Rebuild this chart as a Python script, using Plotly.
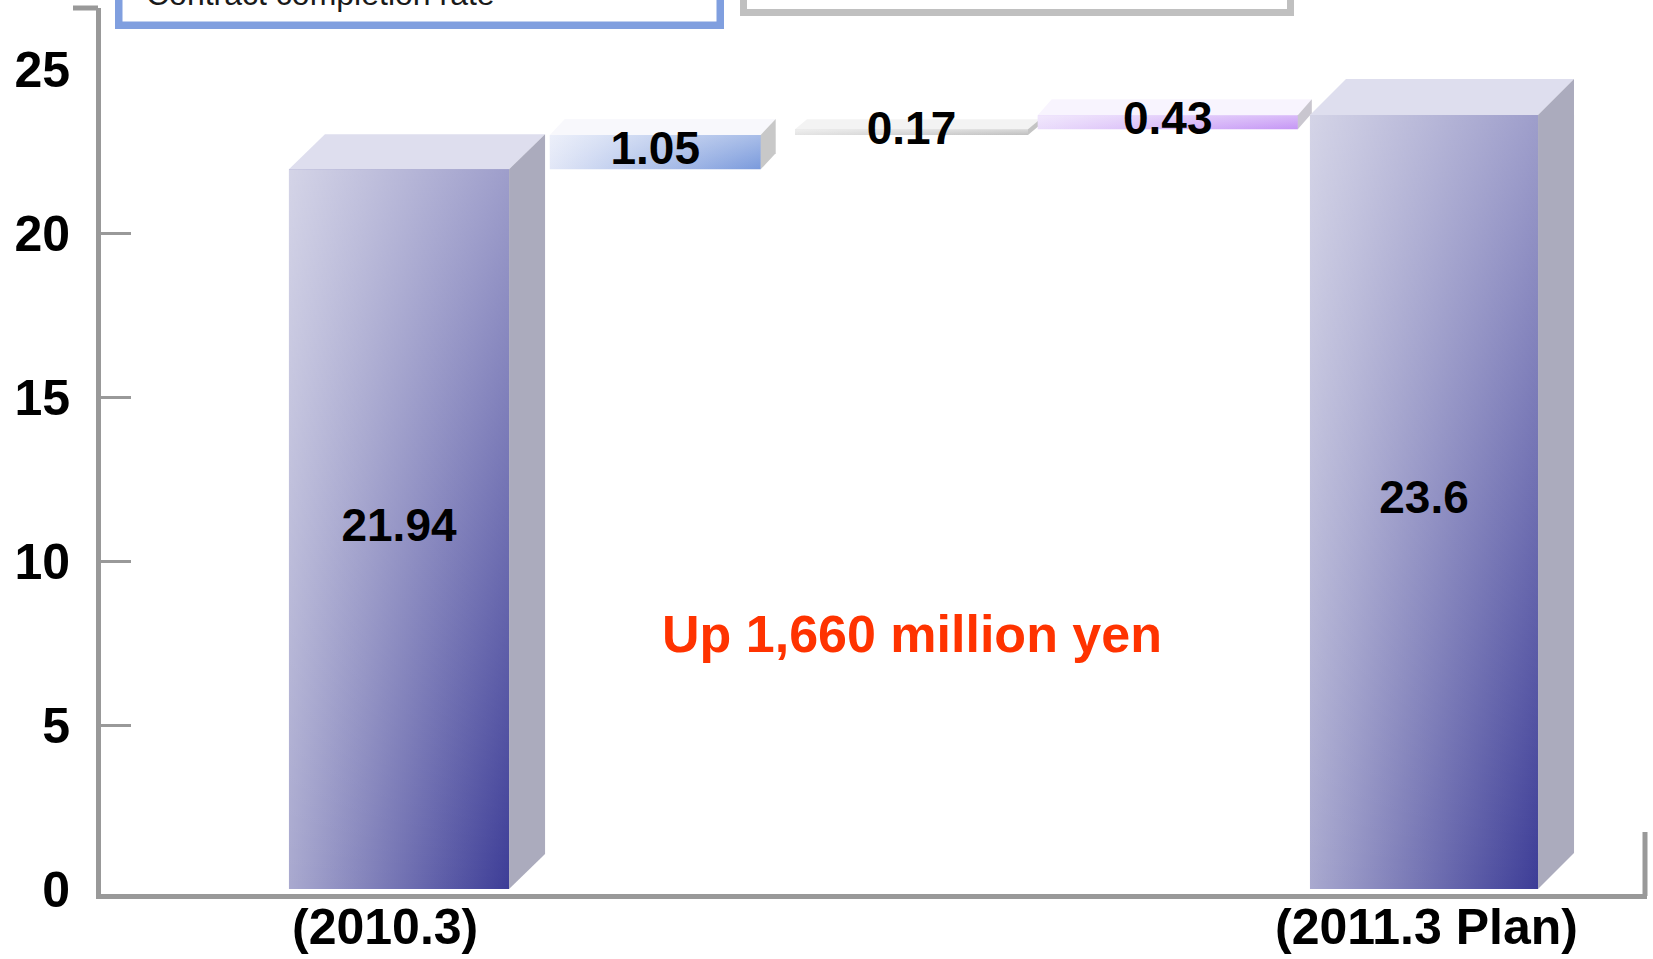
import plotly.graph_objects as go

# ---------------- data ----------------
CATEGORY_LABELS = ["(2010.3)", "", "", "", "(2011.3 Plan)"]
VALUES = [21.94, 1.05, 0.17, 0.43, 23.6]
KINDS = ["total", "delta", "delta", "delta", "total"]
VALUE_LABELS = ["21.94", "1.05", "0.17", "0.43", "23.6"]
Y_TICK_VALUES = [0, 5, 10, 15, 20, 25]
Y_MINOR_TICKS = [5, 10, 15, 20]
NOTE_TEXT = "Up 1,660 million yen"
BOX_TEXT = "Contract completion rate"

# ---------------- style ----------------
W, H = 1653, 959
M_L, M_R, M_T, M_B = 101, 6, 8, 65
PX_PER_X = 256.25          # pixels per category slot
PX_PER_Y = 32.8            # pixels per value unit
ZERO_PX = 889              # pixel row of value 0
FIRST_PX = 399             # pixel column of first category
CAT_LABEL_PX_Y = 927       # pixel row of category label centres
CAT_LABEL_XSHIFT = [-14, 0, 0, 0, 2]
BAR_W = [0.859, 0.823, 0.909, 1.015, 0.89]
DEPTH_DX = [36, 15, 12, 14, 36]
DEPTH_DY = [35, 16, 10, 16, 36]
FRONT_LEFT = ["rgb(169,169,207)", "rgb(226,231,247)", "rgb(228,228,228)", "rgb(234,220,251)", "rgb(169,169,207)"]
FRONT_RIGHT = ["rgb(61,61,151)", "rgb(122,154,220)", "rgb(192,192,192)", "rgb(197,150,245)", "rgb(61,61,151)"]
FRONT_MID = ["rgb(120,120,180)", "rgb(175,192,234)", "rgb(210,210,210)", "rgb(215,185,248)", "rgb(120,120,180)"]
TOP_ALPHA = [0.5, 0.35, 0.4, 0.35, 0.5]
TOP_FACE = ["rgb(222,222,238)", "rgb(248,248,252)", "rgb(243,243,243)", "rgb(248,244,254)", "rgb(222,222,238)"]
SIDE_FACE = ["rgb(171,171,189)", "rgb(200,200,200)", "rgb(196,196,196)", "rgb(201,198,207)", "rgb(171,171,189)"]
AXIS_GREY = "#999999"
FONT = "Liberation Sans, Arial, sans-serif"

plot_w = W - M_L - M_R
plot_h = H - M_T - M_B
x_range = [(M_L - FIRST_PX) / PX_PER_X, (W - M_R - FIRST_PX) / PX_PER_X]
y_range = [(ZERO_PX - (H - M_B)) / PX_PER_Y, (ZERO_PX - M_T) / PX_PER_Y]

# waterfall bases
bases, running = [], 0.0
for v, k in zip(VALUES, KINDS):
    if k == "total":
        bases.append(0.0)
        running = v
    else:
        bases.append(running)
        running += v
xs = list(range(len(VALUES)))

fig = go.Figure()

# front faces as bars (solid mid colour underneath the gradients)
fig.add_trace(go.Bar(
    x=xs, y=VALUES, base=bases, width=BAR_W,
    marker=dict(color=FRONT_MID, line=dict(width=0)),
    hoverinfo="skip", showlegend=False,
))


def poly(px, py, **kw):
    return go.Scatter(x=px + [px[0]], y=py + [py[0]], mode="lines", fill="toself",
                      line=dict(width=0), hoverinfo="skip", showlegend=False, **kw)


for i, (x, v, b) in enumerate(zip(xs, VALUES, bases)):
    L = x - BAR_W[i] / 2
    R = x + BAR_W[i] / 2
    top = b + v
    dx = DEPTH_DX[i] / PX_PER_X
    dy = DEPTH_DY[i] / PX_PER_Y
    # front gradient (horizontal)
    fig.add_trace(poly([L, R, R, L], [b, b, top, top],
                       fillgradient=dict(type="horizontal",
                                         colorscale=[[0, FRONT_LEFT[i]], [1, FRONT_RIGHT[i]]],
                                         start=L, stop=R)))
    # front highlight (vertical)
    fig.add_trace(poly([L, R, R, L], [b, b, top, top],
                       fillgradient=dict(type="vertical",
                                         colorscale=[[0, "rgba(255,255,255,0)"],
                                                     [1, f"rgba(255,255,255,{TOP_ALPHA[i]})"]],
                                         start=b, stop=top)))
    # top face
    fig.add_trace(poly([L, R, R + dx, L + dx], [top, top, top + dy, top + dy],
                       fillcolor=TOP_FACE[i]))
    # side face
    fig.add_trace(poly([R, R + dx, R + dx, R], [b, b + dy, top + dy, top],
                       fillcolor=SIDE_FACE[i]))

# value labels
fig.add_trace(go.Scatter(
    x=xs, y=[b + v / 2 for b, v in zip(bases, VALUES)], mode="text",
    text=VALUE_LABELS, textposition="middle center",
    textfont=dict(family=FONT, size=46, color="black", weight="bold"),
    cliponaxis=False, hoverinfo="skip", showlegend=False,
))

fig.update_layout(
    width=W, height=H,
    margin=dict(l=M_L, r=M_R, t=M_T, b=M_B, pad=0, autoexpand=False),
    paper_bgcolor="white", plot_bgcolor="white",
    showlegend=False,
    bargap=0,
    xaxis=dict(range=x_range, showticklabels=False,
               showgrid=False, zeroline=False, ticks="",
               showline=True, linecolor=AXIS_GREY, linewidth=5,
               automargin=False, fixedrange=True),
    yaxis=dict(range=y_range, tickvals=Y_TICK_VALUES,
               tickfont=dict(family=FONT, size=50, color="black", weight="bold"),
               showgrid=False, zeroline=False, ticks="",
               showline=True, linecolor=AXIS_GREY, linewidth=5,
               ticklabelstandoff=16, automargin=False, fixedrange=True),
    yaxis2=dict(range=y_range, overlaying="y", side="left", anchor="x",
                tickvals=Y_MINOR_TICKS, ticks="inside", ticklen=30, tickwidth=3,
                tickcolor=AXIS_GREY, showticklabels=False, showgrid=False,
                zeroline=False, showline=False, automargin=False, fixedrange=True),
)

# dummy trace to activate yaxis2
fig.add_trace(go.Scatter(x=[xs[0]], y=[0], yaxis="y2", mode="markers",
                         marker=dict(opacity=0), hoverinfo="skip", showlegend=False))


def px2paper_x(p):
    return (p - M_L) / plot_w


def px2paper_y(p):
    return (H - M_B - p) / plot_h


# category labels below the axis
for i, lab in enumerate(CATEGORY_LABELS):
    if lab:
        fig.add_annotation(x=xs[i], y=px2paper_y(CAT_LABEL_PX_Y), xref="x", yref="paper",
                           text=lab, showarrow=False, xanchor="center", yanchor="middle",
                           xshift=CAT_LABEL_XSHIFT[i],
                           font=dict(family=FONT, size=50, color="black", weight="bold"))

shapes = [
    # top hook of y axis
    dict(type="line", xref="paper", yref="paper",
         x0=px2paper_x(73), x1=px2paper_x(M_L - 3), y0=px2paper_y(8), y1=px2paper_y(8),
         line=dict(color=AXIS_GREY, width=5)),
    # right end stub of x axis
    dict(type="line", xref="paper", yref="paper",
         x0=px2paper_x(1645), x1=px2paper_x(1645), y0=px2paper_y(832), y1=px2paper_y(896),
         line=dict(color=AXIS_GREY, width=5)),
    # blue header box
    dict(type="rect", xref="paper", yref="paper",
         x0=px2paper_x(118.75), x1=px2paper_x(720.25), y0=px2paper_y(25.25), y1=px2paper_y(-30),
         line=dict(color="#809FDF", width=7.5), fillcolor="white", layer="above"),
    # grey header box
    dict(type="rect", xref="paper", yref="paper",
         x0=px2paper_x(743.5), x1=px2paper_x(1290.5), y0=px2paper_y(12.5), y1=px2paper_y(-30),
         line=dict(color="#C0C0C0", width=7), fillcolor="white", layer="above"),
]
fig.update_layout(shapes=shapes)

fig.add_annotation(x=2, y=(ZERO_PX - 634) / PX_PER_Y, xref="x", yref="y",
                   text=NOTE_TEXT, showarrow=False, xanchor="center", yanchor="middle",
                   font=dict(family=FONT, size=52, color="#FF3300", weight="bold"))
fig.add_annotation(x=px2paper_x(144), y=px2paper_y(14), xref="paper", yref="paper",
                   text=BOX_TEXT, showarrow=False, xanchor="left", yanchor="bottom",
                   font=dict(family=FONT, size=32, color="#1a1a1a"))

fig.write_html("out.html")
